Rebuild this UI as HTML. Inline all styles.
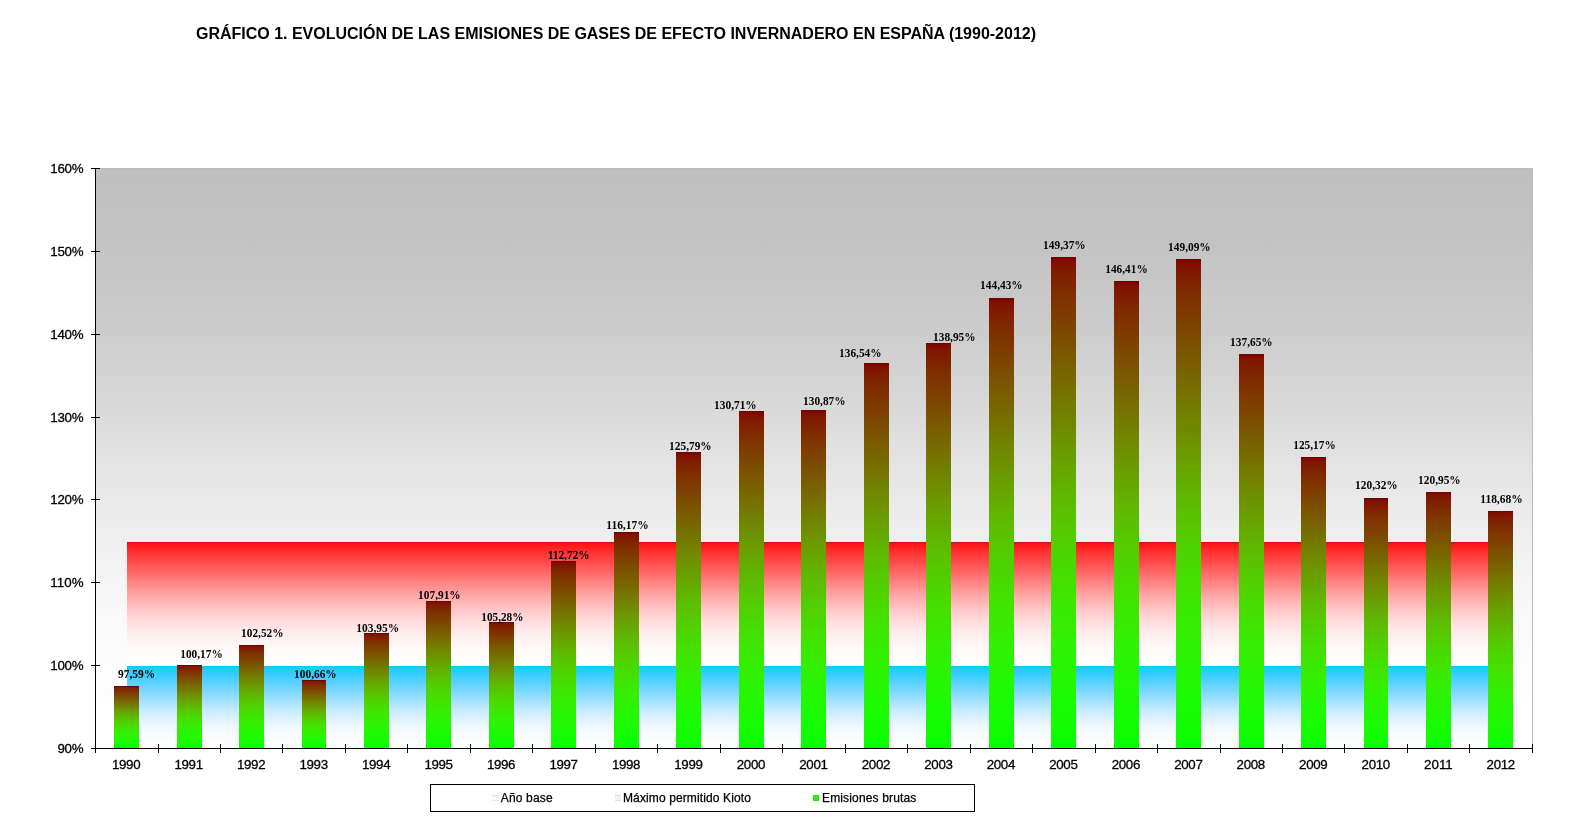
<!DOCTYPE html>
<html lang="es"><head><meta charset="utf-8">
<title>GRÁFICO 1. Evolución de las emisiones de gases de efecto invernadero en España (1990-2012)</title>
<style>
html,body{margin:0;padding:0;background:#fff;}
body{width:1570px;height:834px;overflow:hidden;position:relative;font-family:"Liberation Sans",sans-serif;}
svg{position:absolute;left:0;top:0;display:block;will-change:transform;}
.t{font-family:"Liberation Sans",sans-serif;font-weight:bold;font-size:16px;fill:#000;}
.ax{font-family:"Liberation Sans",sans-serif;font-size:13.33px;fill:#000;stroke:#000;stroke-width:.3px;}
.lg{font-family:"Liberation Sans",sans-serif;font-size:12px;fill:#000;stroke:#000;stroke-width:.25px;}
.dl{font-family:"Liberation Serif",serif;font-weight:bold;font-size:12px;fill:#000;}
</style></head><body>
<svg width="1570" height="834" viewBox="0 0 1570 834">
<defs>
<linearGradient id="gbg" x1="0" y1="0" x2="0" y2="1"><stop offset="0.0000" stop-color="#c0c0c0"/><stop offset="0.0250" stop-color="#c0c0c0"/><stop offset="0.0500" stop-color="#c1c1c1"/><stop offset="0.0750" stop-color="#c2c2c2"/><stop offset="0.1000" stop-color="#c3c3c3"/><stop offset="0.1250" stop-color="#c3c3c3"/><stop offset="0.1500" stop-color="#c5c5c5"/><stop offset="0.1750" stop-color="#c6c6c6"/><stop offset="0.2000" stop-color="#c7c7c7"/><stop offset="0.2250" stop-color="#c9c9c9"/><stop offset="0.2500" stop-color="#cacaca"/><stop offset="0.2750" stop-color="#cccccc"/><stop offset="0.3000" stop-color="#cecece"/><stop offset="0.3250" stop-color="#d1d1d1"/><stop offset="0.3500" stop-color="#d3d3d3"/><stop offset="0.3750" stop-color="#d5d5d5"/><stop offset="0.4000" stop-color="#d8d8d8"/><stop offset="0.4250" stop-color="#dadada"/><stop offset="0.4500" stop-color="#dddddd"/><stop offset="0.4750" stop-color="#e0e0e0"/><stop offset="0.5000" stop-color="#e2e2e2"/><stop offset="0.5250" stop-color="#e5e5e5"/><stop offset="0.5500" stop-color="#e7e7e7"/><stop offset="0.5750" stop-color="#eaeaea"/><stop offset="0.6000" stop-color="#ececec"/><stop offset="0.6250" stop-color="#eeeeee"/><stop offset="0.6500" stop-color="#f0f0f0"/><stop offset="0.6750" stop-color="#f2f2f2"/><stop offset="0.7000" stop-color="#f4f4f4"/><stop offset="0.7250" stop-color="#f6f6f6"/><stop offset="0.7500" stop-color="#f7f7f7"/><stop offset="0.7750" stop-color="#f9f9f9"/><stop offset="0.8000" stop-color="#fafafa"/><stop offset="0.8250" stop-color="#fbfbfb"/><stop offset="0.8500" stop-color="#fcfcfc"/><stop offset="0.8750" stop-color="#fdfdfd"/><stop offset="0.9000" stop-color="#fdfdfd"/><stop offset="0.9250" stop-color="#fefefe"/><stop offset="0.9500" stop-color="#fefefe"/><stop offset="0.9750" stop-color="#ffffff"/><stop offset="1.0000" stop-color="#ffffff"/></linearGradient>
<linearGradient id="gred" x1="0" y1="0" x2="0" y2="1"><stop offset="0.0000" stop-color="#ff0000"/><stop offset="0.0156" stop-color="#ff1414"/><stop offset="0.0312" stop-color="#ff1c1c"/><stop offset="0.0469" stop-color="#ff2323"/><stop offset="0.0625" stop-color="#ff2929"/><stop offset="0.0781" stop-color="#ff2f2f"/><stop offset="0.0938" stop-color="#ff3434"/><stop offset="0.1094" stop-color="#ff3a3a"/><stop offset="0.1250" stop-color="#ff3f3f"/><stop offset="0.1406" stop-color="#ff4444"/><stop offset="0.1562" stop-color="#ff4949"/><stop offset="0.1719" stop-color="#ff4f4f"/><stop offset="0.1875" stop-color="#ff5454"/><stop offset="0.2031" stop-color="#ff5959"/><stop offset="0.2188" stop-color="#ff5f5f"/><stop offset="0.2344" stop-color="#ff6464"/><stop offset="0.2500" stop-color="#ff6969"/><stop offset="0.2656" stop-color="#ff6e6e"/><stop offset="0.2812" stop-color="#ff7474"/><stop offset="0.2969" stop-color="#ff7979"/><stop offset="0.3125" stop-color="#ff7e7e"/><stop offset="0.3281" stop-color="#ff8484"/><stop offset="0.3438" stop-color="#ff8989"/><stop offset="0.3594" stop-color="#ff8e8e"/><stop offset="0.3750" stop-color="#ff9393"/><stop offset="0.3906" stop-color="#ff9999"/><stop offset="0.4062" stop-color="#ff9e9e"/><stop offset="0.4219" stop-color="#ffa3a3"/><stop offset="0.4375" stop-color="#ffa7a7"/><stop offset="0.4531" stop-color="#ffacac"/><stop offset="0.4688" stop-color="#ffb1b1"/><stop offset="0.4844" stop-color="#ffb6b6"/><stop offset="0.5000" stop-color="#ffbaba"/><stop offset="0.5156" stop-color="#ffbebe"/><stop offset="0.5312" stop-color="#ffc3c3"/><stop offset="0.5469" stop-color="#ffc7c7"/><stop offset="0.5625" stop-color="#ffcbcb"/><stop offset="0.5781" stop-color="#ffcece"/><stop offset="0.5938" stop-color="#ffd2d2"/><stop offset="0.6094" stop-color="#ffd6d6"/><stop offset="0.6250" stop-color="#ffd9d9"/><stop offset="0.6406" stop-color="#ffdcdc"/><stop offset="0.6562" stop-color="#ffdfdf"/><stop offset="0.6719" stop-color="#ffe2e2"/><stop offset="0.6875" stop-color="#ffe5e5"/><stop offset="0.7031" stop-color="#ffe7e7"/><stop offset="0.7188" stop-color="#ffeaea"/><stop offset="0.7344" stop-color="#ffecec"/><stop offset="0.7500" stop-color="#ffeeee"/><stop offset="0.7656" stop-color="#fff0f0"/><stop offset="0.7812" stop-color="#fff2f2"/><stop offset="0.7969" stop-color="#fff3f3"/><stop offset="0.8125" stop-color="#fff5f5"/><stop offset="0.8281" stop-color="#fff6f6"/><stop offset="0.8438" stop-color="#fff7f7"/><stop offset="0.8594" stop-color="#fff9f9"/><stop offset="0.8750" stop-color="#fffafa"/><stop offset="0.8906" stop-color="#fffbfb"/><stop offset="0.9062" stop-color="#fffbfb"/><stop offset="0.9219" stop-color="#fffcfc"/><stop offset="0.9375" stop-color="#fffdfd"/><stop offset="0.9531" stop-color="#fffefe"/><stop offset="0.9688" stop-color="#fffefe"/><stop offset="0.9844" stop-color="#ffffff"/><stop offset="1.0000" stop-color="#ffffff"/></linearGradient>
<linearGradient id="gblue" x1="0" y1="0" x2="0" y2="1"><stop offset="0.0000" stop-color="#00ccff"/><stop offset="0.0156" stop-color="#14ccff"/><stop offset="0.0312" stop-color="#1cccff"/><stop offset="0.0469" stop-color="#23cdff"/><stop offset="0.0625" stop-color="#29cdff"/><stop offset="0.0781" stop-color="#2fcdff"/><stop offset="0.0938" stop-color="#34ceff"/><stop offset="0.1094" stop-color="#3aceff"/><stop offset="0.1250" stop-color="#3fcfff"/><stop offset="0.1406" stop-color="#44cfff"/><stop offset="0.1562" stop-color="#49d0ff"/><stop offset="0.1719" stop-color="#4fd0ff"/><stop offset="0.1875" stop-color="#54d1ff"/><stop offset="0.2031" stop-color="#59d2ff"/><stop offset="0.2188" stop-color="#5fd2ff"/><stop offset="0.2344" stop-color="#64d3ff"/><stop offset="0.2500" stop-color="#69d4ff"/><stop offset="0.2656" stop-color="#6ed5ff"/><stop offset="0.2812" stop-color="#74d6ff"/><stop offset="0.2969" stop-color="#79d7ff"/><stop offset="0.3125" stop-color="#7ed8ff"/><stop offset="0.3281" stop-color="#84d9ff"/><stop offset="0.3438" stop-color="#89daff"/><stop offset="0.3594" stop-color="#8edcff"/><stop offset="0.3750" stop-color="#93ddff"/><stop offset="0.3906" stop-color="#99deff"/><stop offset="0.4062" stop-color="#9edfff"/><stop offset="0.4219" stop-color="#a3e1ff"/><stop offset="0.4375" stop-color="#a7e2ff"/><stop offset="0.4531" stop-color="#ace3ff"/><stop offset="0.4688" stop-color="#b1e5ff"/><stop offset="0.4844" stop-color="#b6e6ff"/><stop offset="0.5000" stop-color="#bae7ff"/><stop offset="0.5156" stop-color="#bee9ff"/><stop offset="0.5312" stop-color="#c3eaff"/><stop offset="0.5469" stop-color="#c7ebff"/><stop offset="0.5625" stop-color="#cbecff"/><stop offset="0.5781" stop-color="#ceeeff"/><stop offset="0.5938" stop-color="#d2efff"/><stop offset="0.6094" stop-color="#d6f0ff"/><stop offset="0.6250" stop-color="#d9f1ff"/><stop offset="0.6406" stop-color="#dcf2ff"/><stop offset="0.6562" stop-color="#dff3ff"/><stop offset="0.6719" stop-color="#e2f4ff"/><stop offset="0.6875" stop-color="#e5f5ff"/><stop offset="0.7031" stop-color="#e7f6ff"/><stop offset="0.7188" stop-color="#eaf7ff"/><stop offset="0.7344" stop-color="#ecf8ff"/><stop offset="0.7500" stop-color="#eef8ff"/><stop offset="0.7656" stop-color="#f0f9ff"/><stop offset="0.7812" stop-color="#f2faff"/><stop offset="0.7969" stop-color="#f3faff"/><stop offset="0.8125" stop-color="#f5fbff"/><stop offset="0.8281" stop-color="#f6fcff"/><stop offset="0.8438" stop-color="#f7fcff"/><stop offset="0.8594" stop-color="#f9fdff"/><stop offset="0.8750" stop-color="#fafdff"/><stop offset="0.8906" stop-color="#fbfdff"/><stop offset="0.9062" stop-color="#fbfeff"/><stop offset="0.9219" stop-color="#fcfeff"/><stop offset="0.9375" stop-color="#fdfeff"/><stop offset="0.9531" stop-color="#fefeff"/><stop offset="0.9688" stop-color="#feffff"/><stop offset="0.9844" stop-color="#ffffff"/><stop offset="1.0000" stop-color="#ffffff"/></linearGradient>
<linearGradient id="gbar" x1="0" y1="0" x2="0" y2="1"><stop offset="0.0000" stop-color="#800000"/><stop offset="0.0125" stop-color="#801200"/><stop offset="0.0250" stop-color="#801900"/><stop offset="0.0375" stop-color="#7f1f00"/><stop offset="0.0500" stop-color="#7f2400"/><stop offset="0.0625" stop-color="#7f2900"/><stop offset="0.0750" stop-color="#7f2e00"/><stop offset="0.0875" stop-color="#7e3200"/><stop offset="0.1000" stop-color="#7e3700"/><stop offset="0.1125" stop-color="#7e3b00"/><stop offset="0.1250" stop-color="#7d3f00"/><stop offset="0.1375" stop-color="#7d4300"/><stop offset="0.1500" stop-color="#7c4700"/><stop offset="0.1625" stop-color="#7c4c00"/><stop offset="0.1750" stop-color="#7b5000"/><stop offset="0.1875" stop-color="#7b5400"/><stop offset="0.2000" stop-color="#7a5800"/><stop offset="0.2125" stop-color="#7a5c00"/><stop offset="0.2250" stop-color="#796100"/><stop offset="0.2375" stop-color="#786500"/><stop offset="0.2500" stop-color="#776900"/><stop offset="0.2625" stop-color="#776d00"/><stop offset="0.2750" stop-color="#767200"/><stop offset="0.2875" stop-color="#757600"/><stop offset="0.3000" stop-color="#747a00"/><stop offset="0.3125" stop-color="#737e00"/><stop offset="0.3250" stop-color="#728300"/><stop offset="0.3375" stop-color="#718700"/><stop offset="0.3500" stop-color="#6f8b00"/><stop offset="0.3625" stop-color="#6e8f00"/><stop offset="0.3750" stop-color="#6d9300"/><stop offset="0.3875" stop-color="#6c9800"/><stop offset="0.4000" stop-color="#6a9c00"/><stop offset="0.4125" stop-color="#69a000"/><stop offset="0.4250" stop-color="#67a400"/><stop offset="0.4375" stop-color="#66a700"/><stop offset="0.4500" stop-color="#64ab00"/><stop offset="0.4625" stop-color="#63af00"/><stop offset="0.4750" stop-color="#61b300"/><stop offset="0.4875" stop-color="#5fb700"/><stop offset="0.5000" stop-color="#5dba00"/><stop offset="0.5125" stop-color="#5cbe00"/><stop offset="0.5250" stop-color="#5ac100"/><stop offset="0.5375" stop-color="#58c400"/><stop offset="0.5500" stop-color="#56c800"/><stop offset="0.5625" stop-color="#54cb00"/><stop offset="0.5750" stop-color="#52ce00"/><stop offset="0.5875" stop-color="#50d100"/><stop offset="0.6000" stop-color="#4ed400"/><stop offset="0.6125" stop-color="#4cd600"/><stop offset="0.6250" stop-color="#4ad900"/><stop offset="0.6375" stop-color="#48db00"/><stop offset="0.6500" stop-color="#46de00"/><stop offset="0.6625" stop-color="#44e000"/><stop offset="0.6750" stop-color="#42e200"/><stop offset="0.6875" stop-color="#3fe500"/><stop offset="0.7000" stop-color="#3de700"/><stop offset="0.7125" stop-color="#3be900"/><stop offset="0.7250" stop-color="#39ea00"/><stop offset="0.7375" stop-color="#37ec00"/><stop offset="0.7500" stop-color="#35ee00"/><stop offset="0.7625" stop-color="#33ef00"/><stop offset="0.7750" stop-color="#31f100"/><stop offset="0.7875" stop-color="#2ef200"/><stop offset="0.8000" stop-color="#2cf300"/><stop offset="0.8125" stop-color="#2af500"/><stop offset="0.8250" stop-color="#28f600"/><stop offset="0.8375" stop-color="#26f700"/><stop offset="0.8500" stop-color="#24f800"/><stop offset="0.8625" stop-color="#22f900"/><stop offset="0.8750" stop-color="#20fa00"/><stop offset="0.8875" stop-color="#1efa00"/><stop offset="0.9000" stop-color="#1bfb00"/><stop offset="0.9125" stop-color="#19fc00"/><stop offset="0.9250" stop-color="#17fc00"/><stop offset="0.9375" stop-color="#15fd00"/><stop offset="0.9500" stop-color="#12fd00"/><stop offset="0.9625" stop-color="#10fe00"/><stop offset="0.9750" stop-color="#0dfe00"/><stop offset="0.9875" stop-color="#09ff00"/><stop offset="1.0000" stop-color="#00ff00"/></linearGradient>
</defs>
<g shape-rendering="crispEdges">
<rect x="96" y="168" width="1437" height="580" fill="url(#gbg)"/>
<rect x="96" y="168" width="1437" height="1" fill="#bbbbbb"/>
<rect x="1532" y="168" width="1" height="580" fill="#bbbbbb"/>
<rect x="127" y="542" width="1374" height="124" fill="url(#gred)"/>
<rect x="127" y="542" width="1374" height="1" fill="#d81010"/>
<rect x="127" y="666" width="1374" height="82" fill="url(#gblue)"/>
<rect x="114" y="686" width="25" height="62" fill="url(#gbar)"/>
<rect x="114" y="686" width="25" height="1" fill="#6c0600"/>
<rect x="177" y="665" width="25" height="83" fill="url(#gbar)"/>
<rect x="177" y="665" width="25" height="1" fill="#6c0600"/>
<rect x="239" y="645" width="25" height="103" fill="url(#gbar)"/>
<rect x="239" y="645" width="25" height="1" fill="#6c0600"/>
<rect x="302" y="680" width="24" height="68" fill="url(#gbar)"/>
<rect x="302" y="680" width="24" height="1" fill="#6c0600"/>
<rect x="364" y="633" width="25" height="115" fill="url(#gbar)"/>
<rect x="364" y="633" width="25" height="1" fill="#6c0600"/>
<rect x="426" y="601" width="25" height="147" fill="url(#gbar)"/>
<rect x="426" y="601" width="25" height="1" fill="#6c0600"/>
<rect x="489" y="622" width="25" height="126" fill="url(#gbar)"/>
<rect x="489" y="622" width="25" height="1" fill="#6c0600"/>
<rect x="551" y="561" width="25" height="187" fill="url(#gbar)"/>
<rect x="551" y="561" width="25" height="1" fill="#6c0600"/>
<rect x="614" y="532" width="25" height="216" fill="url(#gbar)"/>
<rect x="614" y="532" width="25" height="1" fill="#6c0600"/>
<rect x="676" y="452" width="25" height="296" fill="url(#gbar)"/>
<rect x="676" y="452" width="25" height="1" fill="#6c0600"/>
<rect x="739" y="411" width="25" height="337" fill="url(#gbar)"/>
<rect x="739" y="411" width="25" height="1" fill="#6c0600"/>
<rect x="801" y="410" width="25" height="338" fill="url(#gbar)"/>
<rect x="801" y="410" width="25" height="1" fill="#6c0600"/>
<rect x="864" y="363" width="25" height="385" fill="url(#gbar)"/>
<rect x="864" y="363" width="25" height="1" fill="#6c0600"/>
<rect x="926" y="343" width="25" height="405" fill="url(#gbar)"/>
<rect x="926" y="343" width="25" height="1" fill="#6c0600"/>
<rect x="989" y="298" width="25" height="450" fill="url(#gbar)"/>
<rect x="989" y="298" width="25" height="1" fill="#6c0600"/>
<rect x="1051" y="257" width="25" height="491" fill="url(#gbar)"/>
<rect x="1051" y="257" width="25" height="1" fill="#6c0600"/>
<rect x="1114" y="281" width="25" height="467" fill="url(#gbar)"/>
<rect x="1114" y="281" width="25" height="1" fill="#6c0600"/>
<rect x="1176" y="259" width="25" height="489" fill="url(#gbar)"/>
<rect x="1176" y="259" width="25" height="1" fill="#6c0600"/>
<rect x="1239" y="354" width="25" height="394" fill="url(#gbar)"/>
<rect x="1239" y="354" width="25" height="1" fill="#6c0600"/>
<rect x="1301" y="457" width="25" height="291" fill="url(#gbar)"/>
<rect x="1301" y="457" width="25" height="1" fill="#6c0600"/>
<rect x="1364" y="498" width="24" height="250" fill="url(#gbar)"/>
<rect x="1364" y="498" width="24" height="1" fill="#6c0600"/>
<rect x="1426" y="492" width="25" height="256" fill="url(#gbar)"/>
<rect x="1426" y="492" width="25" height="1" fill="#6c0600"/>
<rect x="1488" y="511" width="25" height="237" fill="url(#gbar)"/>
<rect x="1488" y="511" width="25" height="1" fill="#6c0600"/>
<rect x="95" y="168" width="1" height="585" fill="#000"/>
<rect x="91" y="748" width="1442" height="1" fill="#000"/>
<rect x="91" y="748" width="9" height="1" fill="#000"/>
<rect x="91" y="665" width="9" height="1" fill="#000"/>
<rect x="91" y="582" width="9" height="1" fill="#000"/>
<rect x="91" y="499" width="9" height="1" fill="#000"/>
<rect x="91" y="417" width="9" height="1" fill="#000"/>
<rect x="91" y="334" width="9" height="1" fill="#000"/>
<rect x="91" y="251" width="9" height="1" fill="#000"/>
<rect x="91" y="168" width="9" height="1" fill="#000"/>
<rect x="158" y="744" width="1" height="9" fill="#000"/>
<rect x="220" y="744" width="1" height="9" fill="#000"/>
<rect x="282" y="744" width="1" height="9" fill="#000"/>
<rect x="345" y="744" width="1" height="9" fill="#000"/>
<rect x="407" y="744" width="1" height="9" fill="#000"/>
<rect x="470" y="744" width="1" height="9" fill="#000"/>
<rect x="532" y="744" width="1" height="9" fill="#000"/>
<rect x="595" y="744" width="1" height="9" fill="#000"/>
<rect x="657" y="744" width="1" height="9" fill="#000"/>
<rect x="720" y="744" width="1" height="9" fill="#000"/>
<rect x="782" y="744" width="1" height="9" fill="#000"/>
<rect x="845" y="744" width="1" height="9" fill="#000"/>
<rect x="907" y="744" width="1" height="9" fill="#000"/>
<rect x="970" y="744" width="1" height="9" fill="#000"/>
<rect x="1032" y="744" width="1" height="9" fill="#000"/>
<rect x="1095" y="744" width="1" height="9" fill="#000"/>
<rect x="1157" y="744" width="1" height="9" fill="#000"/>
<rect x="1220" y="744" width="1" height="9" fill="#000"/>
<rect x="1282" y="744" width="1" height="9" fill="#000"/>
<rect x="1344" y="744" width="1" height="9" fill="#000"/>
<rect x="1407" y="744" width="1" height="9" fill="#000"/>
<rect x="1469" y="744" width="1" height="9" fill="#000"/>
<rect x="1532" y="744" width="1" height="9" fill="#000"/>
<rect x="430.5" y="784.5" width="544" height="27" fill="#fff" stroke="#000" stroke-width="1"/>
<rect x="492" y="795" width="7" height="6" fill="#f0f8fc"/>
<rect x="492" y="795" width="7" height="1" fill="#d0e6f2"/>
<rect x="492" y="800" width="7" height="1" fill="#dcebf4"/>
<rect x="615" y="795" width="6" height="6" fill="#fcefef"/>
<rect x="615" y="795" width="6" height="1" fill="#ecd6d6"/>
<rect x="615" y="800" width="6" height="1" fill="#f1dfdf"/>
<rect x="813" y="795" width="6" height="6" fill="#3ad818"/>
<rect x="814" y="796" width="4" height="4" fill="#2ef008"/>
</g>
<text class="t" x="196" y="39" textLength="840" lengthAdjust="spacing">GRÁFICO 1. EVOLUCIÓN DE LAS EMISIONES DE GASES DE EFECTO INVERNADERO EN ESPAÑA (1990-2012)</text>
<text class="ax" x="57.4" y="753" textLength="26.2" lengthAdjust="spacing">90%</text>
<text class="ax" x="50.3" y="670" textLength="33.3" lengthAdjust="spacing">100%</text>
<text class="ax" x="50.3" y="587" textLength="33.3" lengthAdjust="spacing">110%</text>
<text class="ax" x="50.3" y="504" textLength="33.3" lengthAdjust="spacing">120%</text>
<text class="ax" x="50.3" y="422" textLength="33.3" lengthAdjust="spacing">130%</text>
<text class="ax" x="50.3" y="339" textLength="33.3" lengthAdjust="spacing">140%</text>
<text class="ax" x="50.3" y="256" textLength="33.3" lengthAdjust="spacing">150%</text>
<text class="ax" x="50.3" y="173" textLength="33.3" lengthAdjust="spacing">160%</text>
<text class="ax" x="112.0" y="768.6" textLength="28.6" lengthAdjust="spacing">1990</text>
<text class="ax" x="174.5" y="768.6" textLength="28.6" lengthAdjust="spacing">1991</text>
<text class="ax" x="237.0" y="768.6" textLength="28.6" lengthAdjust="spacing">1992</text>
<text class="ax" x="299.5" y="768.6" textLength="28.6" lengthAdjust="spacing">1993</text>
<text class="ax" x="362.0" y="768.6" textLength="28.6" lengthAdjust="spacing">1994</text>
<text class="ax" x="424.4" y="768.6" textLength="28.6" lengthAdjust="spacing">1995</text>
<text class="ax" x="486.9" y="768.6" textLength="28.6" lengthAdjust="spacing">1996</text>
<text class="ax" x="549.4" y="768.6" textLength="28.6" lengthAdjust="spacing">1997</text>
<text class="ax" x="611.9" y="768.6" textLength="28.6" lengthAdjust="spacing">1998</text>
<text class="ax" x="674.3" y="768.6" textLength="28.6" lengthAdjust="spacing">1999</text>
<text class="ax" x="736.8" y="768.6" textLength="28.6" lengthAdjust="spacing">2000</text>
<text class="ax" x="799.3" y="768.6" textLength="28.6" lengthAdjust="spacing">2001</text>
<text class="ax" x="861.8" y="768.6" textLength="28.6" lengthAdjust="spacing">2002</text>
<text class="ax" x="924.3" y="768.6" textLength="28.6" lengthAdjust="spacing">2003</text>
<text class="ax" x="986.7" y="768.6" textLength="28.6" lengthAdjust="spacing">2004</text>
<text class="ax" x="1049.2" y="768.6" textLength="28.6" lengthAdjust="spacing">2005</text>
<text class="ax" x="1111.7" y="768.6" textLength="28.6" lengthAdjust="spacing">2006</text>
<text class="ax" x="1174.2" y="768.6" textLength="28.6" lengthAdjust="spacing">2007</text>
<text class="ax" x="1236.6" y="768.6" textLength="28.6" lengthAdjust="spacing">2008</text>
<text class="ax" x="1299.1" y="768.6" textLength="28.6" lengthAdjust="spacing">2009</text>
<text class="ax" x="1361.6" y="768.6" textLength="28.6" lengthAdjust="spacing">2010</text>
<text class="ax" x="1424.1" y="768.6" textLength="28.6" lengthAdjust="spacing">2011</text>
<text class="ax" x="1486.6" y="768.6" textLength="28.6" lengthAdjust="spacing">2012</text>
<text class="dl" x="118.0" y="677.8" textLength="37.2" lengthAdjust="spacingAndGlyphs">97,59%</text>
<text class="dl" x="180.3" y="657.8" textLength="42.4" lengthAdjust="spacingAndGlyphs">100,17%</text>
<text class="dl" x="241.1" y="636.8" textLength="42.4" lengthAdjust="spacingAndGlyphs">102,52%</text>
<text class="dl" x="294.1" y="677.8" textLength="42.6" lengthAdjust="spacingAndGlyphs">100,66%</text>
<text class="dl" x="356.3" y="631.8" textLength="42.8" lengthAdjust="spacingAndGlyphs">103,95%</text>
<text class="dl" x="418.1" y="598.8" textLength="42.6" lengthAdjust="spacingAndGlyphs">107,91%</text>
<text class="dl" x="481.3" y="620.8" textLength="42.2" lengthAdjust="spacingAndGlyphs">105,28%</text>
<text class="dl" x="547.7" y="558.8" textLength="42.0" lengthAdjust="spacingAndGlyphs">112,72%</text>
<text class="dl" x="606.3" y="528.8" textLength="42.4" lengthAdjust="spacingAndGlyphs">116,17%</text>
<text class="dl" x="669.1" y="449.8" textLength="42.6" lengthAdjust="spacingAndGlyphs">125,79%</text>
<text class="dl" x="714.1" y="408.8" textLength="42.6" lengthAdjust="spacingAndGlyphs">130,71%</text>
<text class="dl" x="803.1" y="404.8" textLength="42.4" lengthAdjust="spacingAndGlyphs">130,87%</text>
<text class="dl" x="839.1" y="356.8" textLength="42.4" lengthAdjust="spacingAndGlyphs">136,54%</text>
<text class="dl" x="933.1" y="340.8" textLength="42.4" lengthAdjust="spacingAndGlyphs">138,95%</text>
<text class="dl" x="980.1" y="288.8" textLength="42.6" lengthAdjust="spacingAndGlyphs">144,43%</text>
<text class="dl" x="1043.1" y="248.8" textLength="42.6" lengthAdjust="spacingAndGlyphs">149,37%</text>
<text class="dl" x="1105.3" y="272.8" textLength="42.4" lengthAdjust="spacingAndGlyphs">146,41%</text>
<text class="dl" x="1168.1" y="250.8" textLength="42.6" lengthAdjust="spacingAndGlyphs">149,09%</text>
<text class="dl" x="1230.1" y="345.8" textLength="42.6" lengthAdjust="spacingAndGlyphs">137,65%</text>
<text class="dl" x="1293.3" y="448.8" textLength="42.4" lengthAdjust="spacingAndGlyphs">125,17%</text>
<text class="dl" x="1355.1" y="488.8" textLength="42.6" lengthAdjust="spacingAndGlyphs">120,32%</text>
<text class="dl" x="1418.1" y="483.8" textLength="42.6" lengthAdjust="spacingAndGlyphs">120,95%</text>
<text class="dl" x="1480.3" y="502.8" textLength="42.4" lengthAdjust="spacingAndGlyphs">118,68%</text>
<text class="lg" x="500.8" y="802" textLength="51.8" lengthAdjust="spacing">Año base</text>
<text class="lg" x="623" y="802" textLength="127.9" lengthAdjust="spacing">Máximo permitido Kioto</text>
<text class="lg" x="822" y="802" textLength="94.3" lengthAdjust="spacing">Emisiones brutas</text>
</svg>
</body></html>
